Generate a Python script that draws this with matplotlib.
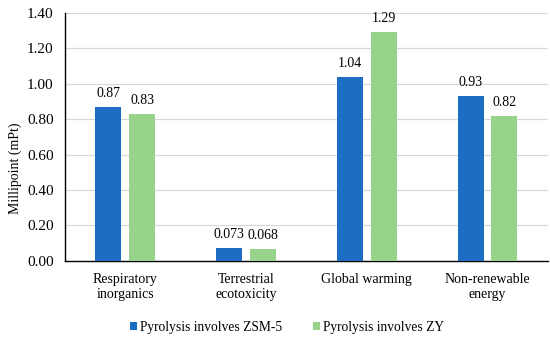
import numpy as np
import matplotlib.pyplot as plt

# data
categories = ['Respiratory\ninorganics', 'Terrestrial\necotoxicity', 'Global warming', 'Non-renewable\nenergy']
zsm5 = [0.87, 0.073, 1.04, 0.93]
zy = [0.83, 0.068, 1.29, 0.82]
zsm5_labels = ['0.87', '0.073', '1.04', '0.93']
zy_labels = ['0.83', '0.068', '1.29', '0.82']

plt.rcParams['font.family'] = ['Liberation Serif', 'DejaVu Serif']
plt.rcParams['font.size'] = 10

fig = plt.figure(figsize=(5.5, 3.41), dpi=100)
ax = fig.add_axes([0.118, 0.235, 0.878, 0.727])

x = np.arange(len(categories))
w = 0.215
off = 0.14
b1 = ax.bar(x - off, zsm5, w, color='#1B6EC2', label='Pyrolysis involves ZSM-5', zorder=3)
b2 = ax.bar(x + off, zy, w, color='#97D38B', label='Pyrolysis involves ZY', zorder=3)
ax.bar_label(b1, labels=zsm5_labels, padding=5, fontsize=10)
ax.bar_label(b2, labels=zy_labels, padding=5, fontsize=10)

ax.set_xlim(-0.5, 3.5)
ax.set_ylim(0, 1.4)
ax.set_yticks(np.arange(0, 1.41, 0.2))
ax.set_yticklabels(['%.2f' % v for v in np.arange(0, 1.41, 0.2)], fontsize=11)
ax.set_xticks(x)
ax.set_xticklabels(categories, linespacing=1.15, fontsize=10)
ax.tick_params(axis='y', length=0, pad=8)
ax.tick_params(axis='x', length=0, pad=9)
ax.yaxis.grid(True, color='#D9D9D9', linewidth=0.9, zorder=0)
ax.set_axisbelow(True)
for s in ['top', 'right']:
    ax.spines[s].set_visible(False)
ax.spines['left'].set_linewidth(1.0)
ax.spines['bottom'].set_linewidth(1.0)
ax.set_ylabel('Millipoint (mPt)', fontsize=10)
ax.yaxis.set_label_coords(-0.088, 0.375)

fig.legend(loc='lower center', bbox_to_anchor=(0.522, -0.015), ncol=2, frameon=False,
           handlelength=0.5, handleheight=0.5, handletextpad=0.25, columnspacing=2.3,
           prop={'family': 'Liberation Serif', 'size': 9.75})

fig.savefig('out.png', dpi=100)
